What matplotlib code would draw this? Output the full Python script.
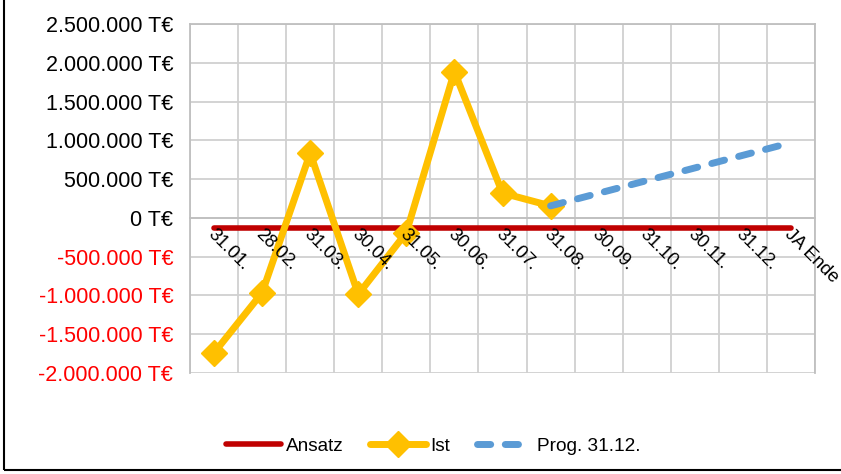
#!/usr/bin/env python

import numpy as np
import matplotlib
matplotlib.use('Agg')
import matplotlib.pyplot as plt
import matplotlib.ticker as mticker
import matplotlib.transforms as mtransforms
from matplotlib.patches import Rectangle

# data (T€)
categories = ['31.01.', '28.02.', '31.03.', '30.04.', '31.05.', '30.06.', '31.07.',
              '31.08.', '30.09.', '31.10.', '30.11.', '31.12.', 'JA Ende']
ansatz = [-125000] * 13
ist = [-1740000, -965000, 835000, -985000, -190000, 1885000, 320000, 155000]
prog = [155000, 318000, 481000, 644000, 807000, 970000]
prog_start = 7  # index of 31.08.
yticks = [-2000000, -1500000, -1000000, -500000, 0, 500000, 1000000, 1500000, 2000000, 2500000]

plt.rcParams['font.family'] = ['Liberation Sans', 'DejaVu Sans']

fig = plt.figure(figsize=(8.41, 4.74), dpi=100)
ax = fig.add_axes([190/841, 1-373/474, 625/841, 349/474])

# spines first: moving a spine resets the ticks
for s in ['top', 'right', 'left', 'bottom']:
    ax.spines[s].set_color('#BFBFBF')
    ax.spines[s].set_linewidth(1.3)
ax.spines['bottom'].set_position(('data', 0))

x = np.arange(len(categories))
ax.plot(x, ansatz, color='#C00000', lw=4, solid_capstyle='round', label='Ansatz', zorder=3)
ax.plot(x[:len(ist)], ist, color='#FFC000', lw=5, marker='D', markersize=13,
        solid_joinstyle='round', solid_capstyle='round', label='Ist', zorder=4)
ax.plot(x[prog_start:prog_start+len(prog)], prog, color='#5B9BD5', lw=5,
        ls=(0, (1.9, 2.1)), dash_capstyle='round', label='Prog. 31.12.', zorder=5)

ax.set_xlim(-0.5, len(categories)-0.5)
ax.set_ylim(yticks[0], yticks[-1])
ax.set_yticks(yticks)

def fmt(v, pos=None):
    s = '{:,.0f}'.format(v).replace(',', '.')
    return s + ' T€'
ax.yaxis.set_major_formatter(mticker.FuncFormatter(fmt))
ax.tick_params(axis='y', length=0, pad=12, labelsize=15.5)
for lbl, v in zip(ax.get_yticklabels(), yticks):
    lbl.set_color('#FF0000' if v < 0 else 'black')

ax.set_xticks(x)
ax.tick_params(axis='x', length=0, pad=6, labelsize=13.2)
ax.set_xticklabels(categories, rotation=-45, rotation_mode='anchor', ha='left', va='top')
shift = mtransforms.ScaledTranslation(2/100, 0, fig.dpi_scale_trans)
for lbl in ax.get_xticklabels():
    lbl.set_transform(lbl.get_transform() + shift)

# gridlines below the series, category labels above them
ax.grid(True, which='major', axis='y', color='#D0D0D0', lw=1.3)
for b in np.arange(-0.5, len(categories), 1):
    ax.axvline(b, color='#D0D0D0', lw=1.3, zorder=0.6)
ax.set_axisbelow(True)
ax.xaxis.set_zorder(6)

leg = fig.legend(loc='center', bbox_to_anchor=(0.515, 1-446/474), ncol=3, frameon=False,
                 fontsize=13.7, handlelength=2.9, columnspacing=1.4, handletextpad=0.25)

# outer chart frame
fig.patches.append(Rectangle((4/841, 4/474), 1.0, 1.0, transform=fig.transFigure,
                             fill=False, edgecolor='black', lw=1.5))

fig.savefig('out.png', dpi=100)
